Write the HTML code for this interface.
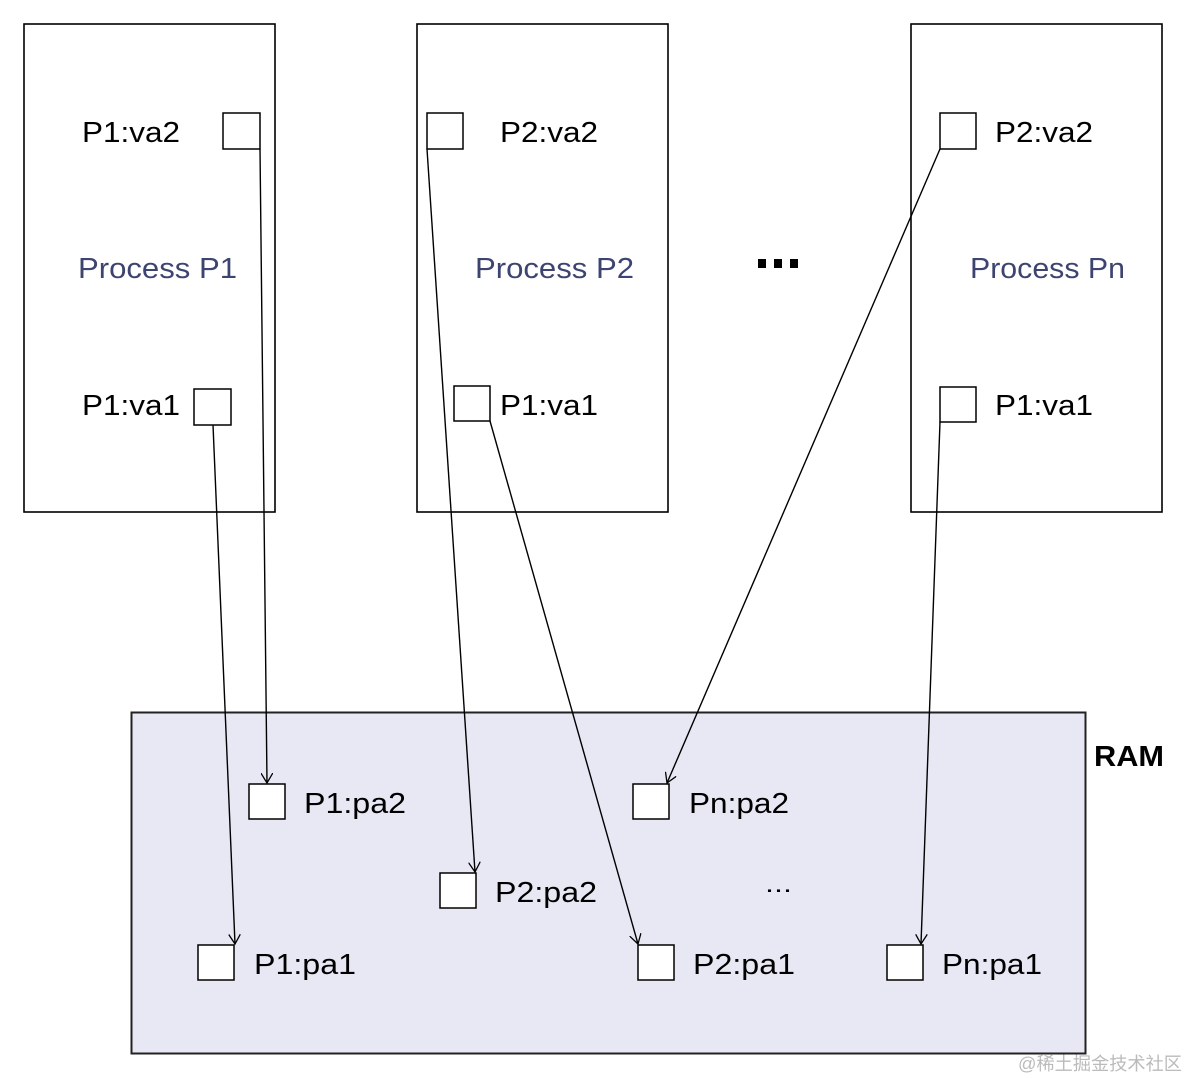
<!DOCTYPE html>
<html><head><meta charset="utf-8"><style>html,body{margin:0;padding:0;background:#fff}svg{display:block}</style></head>
<body>
<svg width="1187" height="1078" viewBox="0 0 1187 1078" xmlns="http://www.w3.org/2000/svg" font-family="Liberation Sans, sans-serif">
<defs>
<marker id="a" markerWidth="12" markerHeight="12" refX="10" refY="6" orient="auto" markerUnits="userSpaceOnUse">
<path d="M0,0 L10,6 L0,12" fill="none" stroke="#000" stroke-width="1.3"/>
</marker>
</defs>
<g fill="#fff" stroke="#000" stroke-width="1.6">
<rect x="24" y="24" width="251" height="488"/>
<rect x="417" y="24" width="251" height="488"/>
<rect x="911" y="24" width="251" height="488"/>
<rect x="131.5" y="712.5" width="954" height="341" fill="#e8e8f4" stroke="#222" stroke-width="2"/>
</g>
<g fill="#fff" stroke="#000" stroke-width="1.5">
<rect x="223" y="113" width="37" height="36"/>
<rect x="194" y="389" width="37" height="36"/>
<rect x="427" y="113" width="36" height="36"/>
<rect x="454" y="386" width="36" height="35"/>
<rect x="940" y="113" width="36" height="36"/>
<rect x="940" y="387" width="36" height="35"/>
<rect x="249" y="784" width="36" height="35"/>
<rect x="440" y="873" width="36" height="35"/>
<rect x="633" y="784" width="36" height="35"/>
<rect x="198" y="945" width="36" height="35"/>
<rect x="638" y="945" width="36" height="35"/>
<rect x="887" y="945" width="36" height="35"/>
</g>
<g stroke="#000" stroke-width="1.4" fill="none" marker-end="url(#a)">
<line x1="260" y1="149" x2="267" y2="783"/>
<line x1="213" y1="425" x2="235" y2="944"/>
<line x1="427" y1="149" x2="475" y2="872"/>
<line x1="490" y1="421" x2="638" y2="944"/>
<line x1="940" y1="149" x2="667" y2="783"/>
<line x1="940" y1="422" x2="921" y2="944"/>
</g>
<g font-size="29" fill="#000">
<text x="82" y="142" textLength="98" lengthAdjust="spacingAndGlyphs">P1:va2</text>
<text x="82" y="415" textLength="98" lengthAdjust="spacingAndGlyphs">P1:va1</text>
<text x="500" y="142" textLength="98" lengthAdjust="spacingAndGlyphs">P2:va2</text>
<text x="500" y="415" textLength="98" lengthAdjust="spacingAndGlyphs">P1:va1</text>
<text x="995" y="142" textLength="98" lengthAdjust="spacingAndGlyphs">P2:va2</text>
<text x="995" y="415" textLength="98" lengthAdjust="spacingAndGlyphs">P1:va1</text>
<text x="304" y="813" textLength="102" lengthAdjust="spacingAndGlyphs">P1:pa2</text>
<text x="689" y="813" textLength="100" lengthAdjust="spacingAndGlyphs">Pn:pa2</text>
<text x="495" y="902" textLength="102" lengthAdjust="spacingAndGlyphs">P2:pa2</text>
<text x="254" y="974" textLength="102" lengthAdjust="spacingAndGlyphs">P1:pa1</text>
<text x="693" y="974" textLength="102" lengthAdjust="spacingAndGlyphs">P2:pa1</text>
<text x="942" y="974" textLength="100" lengthAdjust="spacingAndGlyphs">Pn:pa1</text>
<text x="765" y="892" font-size="24" textLength="27" lengthAdjust="spacingAndGlyphs">...</text>
</g>
<g font-size="29" fill="#3d4470">
<text x="78" y="278" textLength="159" lengthAdjust="spacingAndGlyphs">Process P1</text>
<text x="475" y="278" textLength="159" lengthAdjust="spacingAndGlyphs">Process P2</text>
<text x="970" y="278" textLength="155" lengthAdjust="spacingAndGlyphs">Process Pn</text>
</g>
<g fill="#000">
<rect x="758" y="259" width="8" height="9"/><rect x="774" y="259" width="8" height="9"/><rect x="790" y="259" width="8" height="9"/>
</g>
<text x="1094" y="766" font-size="29" font-weight="bold" textLength="70" lengthAdjust="spacingAndGlyphs">RAM</text>
<text x="1018" y="1070" font-size="18" fill="#bbb" textLength="164" lengthAdjust="spacingAndGlyphs" font-family="Liberation Sans, Noto Sans CJK SC, sans-serif">@稀土掘金技术社区</text>
</svg>
</body></html>
